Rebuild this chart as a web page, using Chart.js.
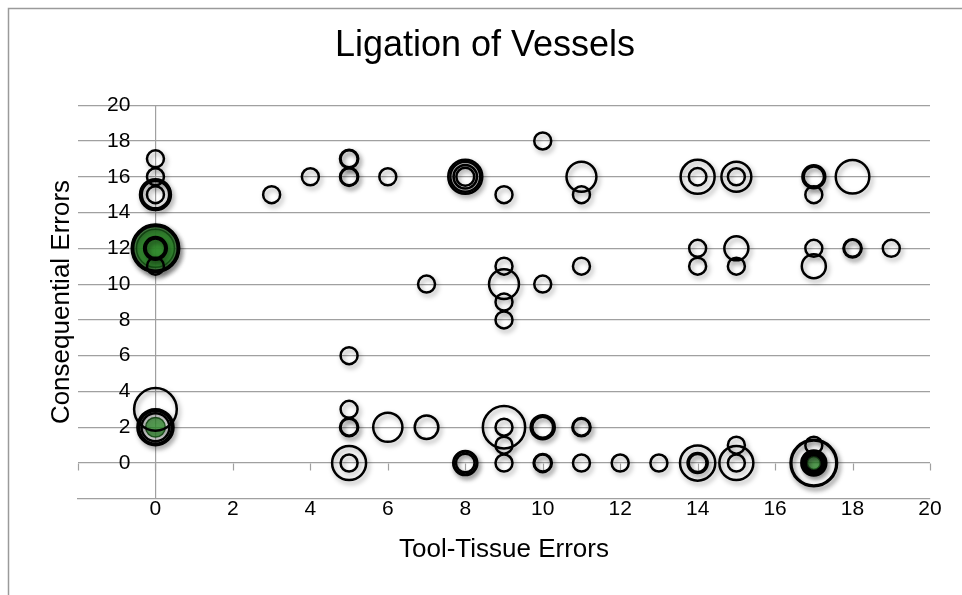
<!DOCTYPE html>
<html lang="en">
<head>
<meta charset="UTF-8">
<title>Ligation of Vessels</title>
<style>
  html, body { margin: 0; padding: 0; background: #fff; }
  #wrap { width: 962px; height: 595px; }
</style>
<script src="https://cdn.jsdelivr.net/npm/chart.js"></script>
</head>
<body>
<div id="wrap"><canvas id="chart"></canvas></div>
<script>
// outlined bubbles: tool-tissue errors, consequential errors, bubble size
const plainX = [0, 0, 0, 0, 0, 0, 0, 0, 0, 0, 0, 0, 0, 0,
                3, 4, 5, 5, 5, 5, 5, 5, 5, 5, 5, 5, 6, 6, 7, 7,
                8, 8, 8, 8, 8, 8, 8,
                9, 9, 9, 9, 9, 9, 9, 9, 9,
                10, 10, 10, 10, 10, 10,
                11, 11, 11, 11, 11, 11, 12, 13,
                14, 14, 14, 14, 14, 14, 14,
                15, 15, 15, 15, 15, 15, 15,
                17, 17, 17, 17, 17, 17, 17, 17, 17, 17, 17, 17,
                18, 18, 18, 19];
const plainY = [17, 16, 15, 15, 15, 12, 12, 12, 12, 11, 3, 2, 2, 2,
                15, 16, 17, 17, 16, 16, 6, 3, 2, 2, 0, 0, 16, 2, 10, 2,
                16, 16, 16, 16, 0, 0, 0,
                15, 11, 10, 9, 8, 2, 2, 1, 0,
                18, 10, 2, 2, 0, 0,
                16, 15, 11, 2, 2, 0, 0, 0,
                16, 16, 12, 11, 0, 0, 0,
                16, 16, 12, 11, 1, 0, 0,
                16, 16, 15, 12, 11, 1, 0, 0, 0, 0, 0, 0,
                16, 12, 12, 12];
const plainSize = [1, 1, 3.3, 2.6, 1, 7.8, 6.9, 1.77, 1.33, 1, 6.3, 4.5, 3.7, 2.7,
                   1, 1, 1, 1.15, 1, 1.15, 1, 1, 1, 1.15, 4, 1, 1, 2.95, 1, 1.93,
                   4, 3.1, 1.9, 1.1, 2, 1.8, 1.2,
                   1, 1, 3.1, 1, 1, 6.2, 1, 1, 1,
                   1, 1, 2, 1.5, 1, 1.15,
                   3.1, 1, 1, 1, 1.15, 1, 1, 1,
                   4, 1.07, 1, 1, 4.3, 1.4, 1.1,
                   3.1, 1, 2, 1, 1, 4, 1,
                   1.8, 1.45, 1, 1, 2, 1, 7.5, 7, 2.15, 1.67, 1.25, 0.9,
                   3.9, 1, 1.15, 1];

// green filled bubbles
const greenX = [0, 0, 0, 17];
const greenY = [12, 12, 2, 0];
const greenSize = [7.8, 5, 1.33, 0.58];

const axisMin = -2;
const axisMax = 20;
const axisStep = 2;

const gridColor = '#a0a0a0';
const font = 'Liberation Sans, Arial, sans-serif';

function radius(size) {
    return 8.5 * Math.sqrt(size);
}

function toPoints(xs, ys, sizes) {
    return xs.map((x, i) => ({ x: x, y: ys[i], r: radius(sizes[i]) }));
}

const framePlugin = {
    id: 'frame',
    beforeDraw(chart) {
        const c = chart.ctx;
        c.save();
        c.fillStyle = '#fff';
        c.fillRect(0, 0, chart.width, chart.height);
        c.strokeStyle = '#9a9a9a';
        c.lineWidth = 1.5;
        c.strokeRect(8.5, 8.5, chart.width + 20, chart.height + 20);
        c.restore();
    }
};

// small tick marks hanging under the zero line
const zeroTicks = {
    id: 'zeroTicks',
    beforeDatasetsDraw(chart) {
        const { ctx, scales: { x, y } } = chart;
        const y0 = Math.round(y.getPixelForValue(0)) + 0.5;
        ctx.save();
        ctx.strokeStyle = gridColor;
        ctx.lineWidth = 1.2;
        x.ticks.forEach(t => {
            const px = Math.round(x.getPixelForValue(t.value)) + 0.5;
            ctx.beginPath();
            ctx.moveTo(px, y0);
            ctx.lineTo(px, y0 + 7);
            ctx.stroke();
        });
        ctx.restore();
    }
};

const bubbleShadow = {
    id: 'bubbleShadow',
    beforeDatasetsDraw(chart) {
        const c = chart.ctx;
        c.save();
        c.shadowColor = 'rgba(0,0,0,0.35)';
        c.shadowBlur = 5;
        c.shadowOffsetX = 2;
        c.shadowOffsetY = 3;
    },
    afterDatasetsDraw(chart) {
        chart.ctx.restore();
    }
};

new Chart(document.getElementById('chart'), {
    type: 'bubble',
    data: {
        datasets: [{
            label: 'Errors',
            data: toPoints(plainX, plainY, plainSize),
            borderColor: '#000',
            borderWidth: 2.5,
            backgroundColor: 'rgba(0,0,0,0)'
        }, {
            label: 'Errors (filled)',
            data: toPoints(greenX, greenY, greenSize),
            borderColor: 'rgba(20,80,20,0.9)',
            borderWidth: 1.5,
            backgroundColor: 'rgba(50,145,45,0.75)'
        }]
    },
    options: {
        responsive: true,
        maintainAspectRatio: false,
        animation: false,
        events: [],
        layout: { padding: { left: 40, right: 32, top: 10, bottom: 26 } },
        plugins: {
            legend: { display: false },
            tooltip: { enabled: false },
            title: {
                display: true,
                text: 'Ligation of Vessels',
                color: '#000',
                font: { family: font, size: 36, weight: 'normal' },
                padding: { top: 14, bottom: 38 }
            }
        },
        scales: {
            x: {
                type: 'linear',
                min: axisMin,
                max: axisMax,
                ticks: {
                    stepSize: axisStep,
                    autoSkip: false,
                    maxRotation: 0,
                    padding: 0,
                    color: '#000',
                    font: { family: font, size: 21, lineHeight: 1 },
                    callback: v => v < 0 ? '' : v
                },
                grid: {
                    drawTicks: false,
                    tickLength: 0,
                    lineWidth: 1.2,
                    color: c => c.tick && c.tick.value === 0 ? gridColor : 'rgba(0,0,0,0)'
                },
                border: { display: true, color: gridColor, width: 1.2 },
                title: {
                    display: true,
                    text: 'Tool-Tissue Errors',
                    color: '#000',
                    font: { family: font, size: 26, weight: 'normal' },
                    padding: { top: 14, bottom: 4 }
                }
            },
            y: {
                type: 'linear',
                min: axisMin,
                max: axisMax,
                afterFit: s => { s.width = 38; },
                ticks: {
                    stepSize: axisStep,
                    autoSkip: false,
                    mirror: true,
                    crossAlign: 'far',
                    padding: 29,
                    color: '#000',
                    font: { family: font, size: 21 },
                    callback: v => v < 0 ? '' : v
                },
                grid: {
                    drawTicks: false,
                    lineWidth: 1.2,
                    color: c => c.tick && c.tick.value < 0 ? 'rgba(0,0,0,0)' : gridColor
                },
                border: { display: false },
                title: {
                    display: true,
                    text: 'Consequential Errors',
                    color: '#000',
                    font: { family: font, size: 26, weight: 'normal' },
                    padding: { top: 6, bottom: 0 }
                }
            }
        }
    },
    plugins: [framePlugin, zeroTicks, bubbleShadow]
});
</script>
</body>
</html>
